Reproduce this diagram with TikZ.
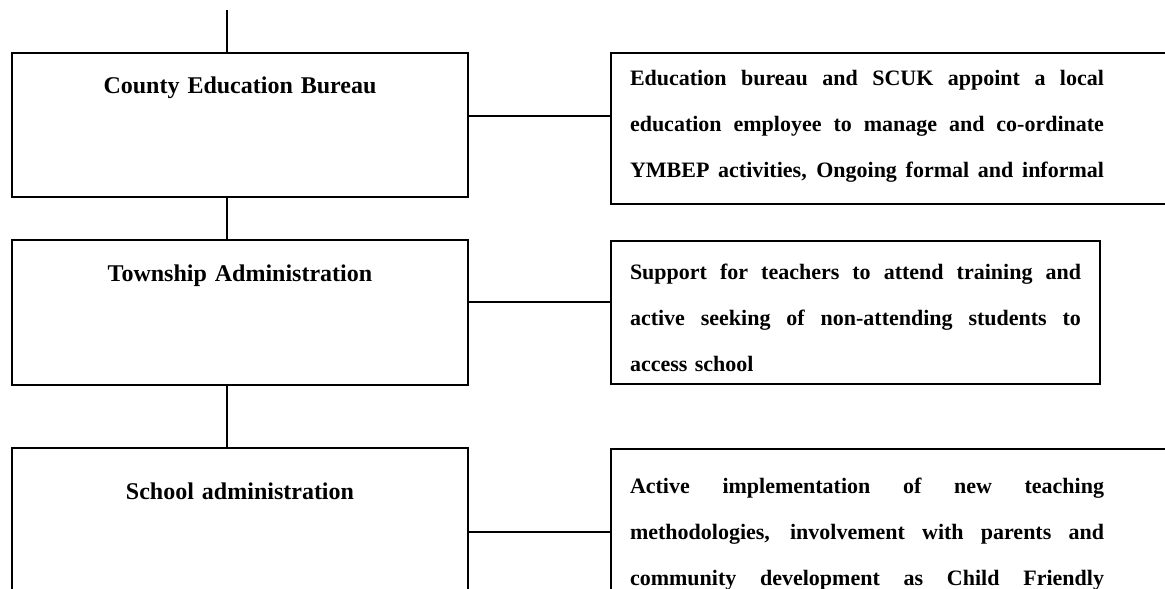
\documentclass[tikz,border=0pt]{standalone}
\usepackage{fontspec}
\setmainfont{Liberation Serif}
\usetikzlibrary{positioning,calc}
\newcommand{\jline}[2][237pt]{{\spaceskip=0pt\xspaceskip=0pt\makebox[#1][s]{#2}}}

\begin{document}
\begin{tikzpicture}[x=0.5pt, y=-0.5pt, line width=1pt,
    level/.style={draw, anchor=north west, inner sep=0pt, text width=228pt, align=center, font=\bfseries\fontsize{12pt}{14pt}\selectfont},
    role/.style={draw, anchor=north west, inner xsep=9.5pt, inner ysep=0pt, align=left, font=\bfseries\fontsize{11pt}{23pt}\selectfont}]
    \path[use as bounding box, clip] (0,0) rectangle (1165,588);

    % County
    \node[level, text height=20.5pt, text depth=51.5pt] (bur) at (11,52) {County Education Bureau};
    \node[role, text width=280pt, text height=16.5pt, text depth=59pt] (burrole) at (610,52) {%
        \jline{Education bureau and SCUK appoint a local}\\
        \jline{education employee to manage and co-ordinate}\\
        \jline{YMBEP activities, Ongoing formal and informal}};

    % Township
    \node[level, text height=20.5pt, text depth=52pt] (twp) at (11,239) {Township Administration};
    \node[role, text width=225.5pt, text height=19pt, text depth=52.5pt] (twprole) at (610,240) {%
        \jline[225.5pt]{Support for teachers to attend training and}\\
        \jline[225.5pt]{active seeking of non-attending students to}\\
        access school};

    % School
    \node[level, text height=25.5pt, text depth=47.5pt] (sch) at (11,447) {School administration};
    \node[role, text width=280pt, text height=22pt, text depth=49.5pt] (schrole) at (610,448) {%
        \jline{Active implementation of new teaching}\\
        \jline{methodologies, involvement with parents and}\\
        \jline{community development as Child Friendly}};

    % Links
    \coordinate (spine) at (227,10);
    \draw (spine) -- (spine |- bur.north);
    \draw (spine |- bur.south) -- (spine |- twp.north);
    \draw (spine |- twp.south) -- (spine |- sch.north);
    \draw ([yshift=4.5pt]bur.east) -- ([yshift=4.5pt]bur.east -| burrole.west);
    \draw ([yshift=5.5pt]twp.east) -- ([yshift=5.5pt]twp.east -| twprole.west);
    \draw ([yshift=-5.5pt]sch.east) -- ([yshift=-5.5pt]sch.east -| schrole.west);
\end{tikzpicture}
\end{document}
